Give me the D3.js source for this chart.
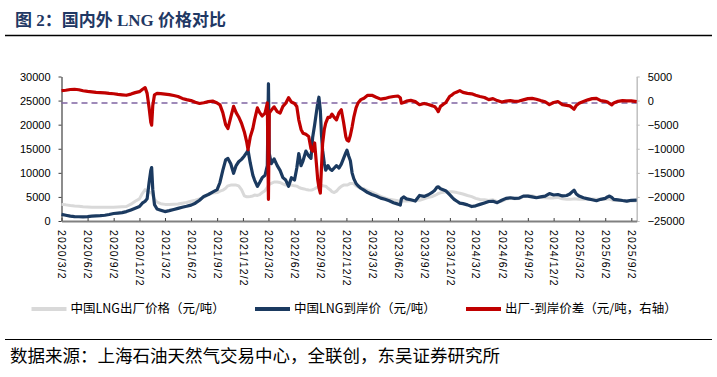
<!DOCTYPE html>
<html>
<head>
<meta charset="utf-8">
<script src="https://cdn.jsdelivr.net/npm/d3@7"></script>
<style>
  body { margin: 0; background: #fff; }
  svg { display: block; }
</style>
</head>
<body>
<div id="chart"></div>
<script>
// 数据：中国LNG出厂价、到岸价（左轴）及价差（右轴），单位 元/吨
const dates = [
  "2020-03-02","2020-03-17","2020-04-02","2020-04-17","2020-05-02","2020-05-17","2020-06-02","2020-06-17",
  "2020-07-02","2020-07-17","2020-08-02","2020-08-17","2020-09-02","2020-09-17","2020-10-02","2020-10-17",
  "2020-11-02","2020-11-17","2020-12-02","2020-12-12","2020-12-22","2020-12-29","2021-01-05","2021-01-11",
  "2021-01-14","2021-01-18","2021-01-24","2021-02-02","2021-02-15","2021-03-02","2021-03-17","2021-04-02",
  "2021-04-17","2021-05-02","2021-05-17","2021-06-02","2021-06-17","2021-07-02","2021-07-17","2021-08-02",
  "2021-08-17","2021-09-02","2021-09-12","2021-09-22","2021-10-02","2021-10-10","2021-10-20","2021-10-30",
  "2021-11-08","2021-11-17","2021-11-27","2021-12-07","2021-12-15","2021-12-20","2021-12-28","2022-01-06",
  "2022-01-12","2022-01-22","2022-01-30","2022-02-08","2022-02-18","2022-02-26","2022-03-02","2022-03-05",
  "2022-03-12","2022-03-22","2022-04-02","2022-04-12","2022-04-22","2022-05-02","2022-05-12","2022-05-22",
  "2022-06-02","2022-06-10","2022-06-17","2022-06-25","2022-07-02","2022-07-12","2022-07-22","2022-07-30",
  "2022-08-05","2022-08-12","2022-08-18","2022-08-23","2022-08-27","2022-09-01","2022-09-05","2022-09-09",
  "2022-09-15","2022-09-20","2022-09-28","2022-10-05","2022-10-12","2022-10-20","2022-10-28","2022-11-06",
  "2022-11-14","2022-11-22","2022-11-30","2022-12-04","2022-12-10","2022-12-16","2022-12-22","2022-12-28",
  "2023-01-05","2023-01-12","2023-01-22","2023-02-02","2023-02-15","2023-03-02","2023-03-17","2023-04-02",
  "2023-04-17","2023-05-02","2023-05-17","2023-06-02","2023-06-10","2023-06-14","2023-06-22","2023-07-02",
  "2023-07-17","2023-08-02","2023-08-17","2023-09-02","2023-09-17","2023-10-02","2023-10-10","2023-10-17",
  "2023-10-22","2023-10-30","2023-11-08","2023-11-17","2023-12-02","2023-12-10","2023-12-17","2023-12-27",
  "2024-01-06","2024-01-17","2024-02-02","2024-02-17","2024-03-02","2024-03-17","2024-04-02","2024-04-17",
  "2024-05-02","2024-05-17","2024-06-02","2024-06-17","2024-07-02","2024-07-17","2024-08-02","2024-08-17",
  "2024-09-02","2024-09-17","2024-10-02","2024-10-17","2024-11-02","2024-11-17","2024-12-02","2024-12-17",
  "2025-01-02","2025-01-17","2025-01-28","2025-02-08","2025-02-12","2025-02-20","2025-03-02","2025-03-17",
  "2025-04-02","2025-04-17","2025-05-02","2025-05-17","2025-06-02","2025-06-10","2025-06-17","2025-06-25",
  "2025-07-02","2025-07-17","2025-08-02","2025-08-17","2025-09-02","2025-09-21"
];

// 中国LNG出厂价格（元/吨）
const factoryPrice = [
  3450,3350,3200,3100,3050,2950,2900,2850, 2830,2830,2830,2830,2850,2900,2950,3000,
  3500,4100,4600,5700,6500,6200,6000,5900, 5800,5300,4500,3900,3600,3450,3450,3480,
  3520,3700,3850,4100,4300,4600,4900,5500, 5800,5900,6200,6400,6800,7300,7450,7450,
  7450,7300,6500,5200,5030,5030,5100,5200, 5380,5300,5500,5900,6300,7000,7400,7600,
  7800,8100,8100,8000,7700,7450,7450,7450, 7300,7240,7000,6800,6700,6560,6450,6410,
  6500,6700,6900,7100,7300,7450,7400,7300, 7250,7240,6800,6500,6100,5900,6200,6800,
  7200,7450,7450,7450,7600,7800,7800,7700, 7300,7100,6800,6700,6300,6000,5600,5100,
  4800,4500,4350,4200,4150,4150,4150,4150, 4200,4250,4300,4600,4900,5100,5300,5500,
  5700,5850,5950,6000,6070,6050,6000,5900, 5750,5600,5300,5050,4700,4450,4400,4250,
  4400,4000,4100,4500,4750,4600,4650,5100, 5300,5250,5000,4900,4850,4800,4800,4900,
  4600,4500,4500,4550,4600,4550,4500,4500, 4550,4550,4500,4500,4500,4550,4550,4400,
  4250,4250,4250,4100,4200,4150
];

// 中国LNG到岸价（元/吨）
const landedPrice = [
  1380,1200,1000,900,880,870,920,1000, 1050,1100,1200,1350,1550,1650,1750,1950,
  2300,2650,3000,3700,4100,4600,8000,10500, 11100,6500,3400,2500,2250,1950,2150,2400,
  2620,2850,3050,3300,3700,4300,5100,5500, 6000,6500,8000,10500,12700,13000,11900,9900,
  11500,12300,12800,13500,14200,14700,12000,9500, 8500,7200,8000,9000,9500,11500,28500,14000,
  11900,12900,11500,10500,9000,8500,7200,9000, 8500,11000,14000,11500,12500,14500,13500,13000,
  17400,20000,22500,24500,25700,23000,18000,14700, 12000,10550,11500,10800,10500,11000,11500,11000,
  11800,13000,14200,14700,13500,12500,10000,8800, 7800,7300,6800,6400,5900,5500,5200,4750,
  4500,4200,3800,3500,3300,4600,5000,4600, 4400,4140,5300,5100,5450,6000,6400,7000,
  7100,6700,6500,6300,5400,4900,4500,4100, 3700,3600,3350,3000,3150,3450,3750,4050,
  4100,3800,4300,4700,4830,4700,4750,5170, 5170,5000,4830,5000,5170,5700,5400,5500,
  5200,5300,5600,6200,6400,5600,5170,4830, 4600,4400,4210,4500,4690,5000,5170,4900,
  4500,4400,4250,4140,4300,4340
];

// 出厂-到岸价差（元/吨，右轴）
const priceSpread = [
  2060,2150,2300,2350,2250,2050,1900,1800, 1700,1650,1600,1500,1420,1300,1200,1100,
  1350,1650,1850,2300,2700,1500,-1500,-4500, -5100,-1000,1200,1500,1450,1350,1250,1050,
  860,450,200,0,-350,-600,-450,-210, -100,-500,-900,-2500,-5000,-5800,-3500,-1200,
  -2500,-3400,-4700,-6500,-8500,-10200,-7500,-5800, -4000,-1500,-2500,-3200,-2600,-500,-20500,-2600,
  -2000,-1300,-2300,-2600,-1200,-550,600,-300, -600,-1240,-4000,-6000,-6760,-7000,-7450,-10000,
  -10500,-8800,-13000,-16500,-18000,-19200,-14000,-9000, -6000,-4690,-3500,-3500,-2800,-3500,-4000,-2500,
  -1900,-4500,-7500,-8200,-8400,-7200,-5500,-3500, -1500,-500,200,500,1100,1100,700,300,
  450,700,850,950,600,-550,-400,-100, 50,-210,-850,-600,-800,-1100,-1300,-1800,
  -2300,-1200,-800,-450,900,1200,1550,1800, 2060,1700,1500,1400,1100,850,650,200,
  400,0,-300,-100,0,-150,-100,140, 400,450,280,0,-250,-850,-400,-200,
  -850,-1000,-1100,-1600,-1800,-1000,-550,-210, 150,400,450,0,-150,-300,-600,-900,
  -500,-150,0,-50,-70,-210
];

const refLevel = -500; // 紫色虚线（右轴）

const xTickLabels = [
  "2020/3/2","2020/6/2","2020/9/2","2020/12/2","2021/3/2","2021/6/2","2021/9/2","2021/12/2",
  "2022/3/2","2022/6/2","2022/9/2","2022/12/2","2023/3/2","2023/6/2","2023/9/2","2023/12/2",
  "2024/3/2","2024/6/2","2024/9/2","2024/12/2","2025/3/2","2025/6/2","2025/9/2"
];
const leftTicks = [0, 5000, 10000, 15000, 20000, 25000, 30000];
const rightTicks = [-25000, -20000, -15000, -10000, -5000, 0, 5000];

const seriesNames = ["中国LNG出厂价格（元/吨）", "中国LNG到岸价（元/吨）", "出厂-到岸价差（元/吨，右轴）"];
const seriesColors = ["#d9d9d9", "#1b3a60", "#c00000"];

const W = 717, H = 377;
const plotL = 61.5, plotR = 636.7, plotT = 76.5, plotB = 221;
const axisFont = "'Liberation Sans', Arial, sans-serif";
const cjkFont = "'Noto Sans CJK SC', sans-serif";

const parseDay = d3.timeParse("%Y-%m-%d");
const parseTick = d3.timeParse("%Y/%m/%d");
const dayList = dates.map(parseDay);

const x = d3.scaleTime()
  .domain([parseDay("2020-03-02"), parseDay("2025-09-21")])
  .range([plotL, plotR]);
const yL = d3.scaleLinear().domain([0, 30000]).range([plotB, plotT]);
const yR = d3.scaleLinear().domain([-25000, 5000]).range([plotB, plotT]);

const svg = d3.select("#chart").append("svg")
  .attr("width", W)
  .attr("height", H);

// 标题
svg.append("text")
  .attr("x", 15)
  .attr("y", 26)
  .attr("font-family", "'Liberation Serif', 'Noto Sans CJK SC', serif")
  .attr("font-weight", "bold")
  .attr("font-size", 17)
  .attr("fill", "#1f3864")
  .text("图 2：国内外 LNG 价格对比");

svg.append("line")
  .attr("x1", 5).attr("x2", 712)
  .attr("y1", 35.5).attr("y2", 35.5)
  .attr("stroke", "#000").attr("stroke-width", 1.3);

const plain = d3.format("d");

// 左轴
const gL = svg.append("g")
  .attr("transform", "translate(" + plotL + ",0)")
  .call(d3.axisLeft(yL).tickValues(leftTicks).tickFormat(plain)
    .tickSize(3).tickSizeOuter(0).tickPadding(8));
gL.select(".domain").attr("stroke", "#404040").attr("stroke-width", 1.2);
gL.selectAll(".tick line").attr("stroke", "#404040");
gL.selectAll("text").attr("font-family", axisFont).attr("font-size", 11).attr("fill", "#000");

// 右轴
const gR = svg.append("g")
  .attr("transform", "translate(" + plotR + ",0)")
  .call(d3.axisRight(yR).tickValues(rightTicks).tickFormat(plain)
    .tickSize(3).tickSizeOuter(0).tickPadding(8));
gR.select(".domain").attr("stroke", "#bfbfbf").attr("stroke-width", 1.5);
gR.selectAll(".tick line").attr("stroke", "#bfbfbf");
gR.selectAll("text").attr("font-family", axisFont).attr("font-size", 11).attr("fill", "#000");

// 横轴
const gX = svg.append("g")
  .attr("transform", "translate(0," + plotB + ")")
  .call(d3.axisBottom(x)
    .tickValues(xTickLabels.map(parseTick))
    .tickFormat((d, i) => xTickLabels[i])
    .tickSize(-3).tickSizeOuter(0));
gX.select(".domain").attr("stroke", "#808080").attr("stroke-width", 2);
gX.selectAll(".tick line").attr("stroke", "#404040");
gX.selectAll("text")
  .attr("font-family", axisFont)
  .attr("font-size", 10.5)
  .attr("letter-spacing", 1.1)
  .attr("fill", "#000")
  .attr("transform", "rotate(90)")
  .attr("x", 9)
  .attr("y", 0)
  .attr("dy", "0.35em")
  .style("text-anchor", "start");

// 折线
const lineL = d3.line().x((d, i) => x(dayList[i])).y(d => yL(d));
const lineR = d3.line().x((d, i) => x(dayList[i])).y(d => yR(d));

svg.append("path").datum(factoryPrice)
  .attr("d", lineL).attr("fill", "none")
  .attr("stroke", seriesColors[0]).attr("stroke-width", 3)
  .attr("stroke-linejoin", "round");

svg.append("path").datum(landedPrice)
  .attr("d", lineL).attr("fill", "none")
  .attr("stroke", seriesColors[1]).attr("stroke-width", 3.2)
  .attr("stroke-linejoin", "round");

svg.append("line")
  .attr("x1", plotL).attr("x2", plotR)
  .attr("y1", yR(refLevel)).attr("y2", yR(refLevel))
  .attr("stroke", "#8064a2").attr("stroke-width", 1.5)
  .attr("stroke-dasharray", "6,4");

svg.append("path").datum(priceSpread)
  .attr("d", lineR).attr("fill", "none")
  .attr("stroke", seriesColors[2]).attr("stroke-width", 3.2)
  .attr("stroke-linejoin", "round");

// 图例
const legendX = [31.5, 255, 466];
const legend = svg.append("g").selectAll("g")
  .data(seriesNames)
  .enter().append("g")
  .attr("transform", (d, i) => "translate(" + legendX[i] + ",309)");
legend.append("line")
  .attr("x1", 0).attr("x2", 35)
  .attr("stroke", (d, i) => seriesColors[i])
  .attr("stroke-width", 4);
legend.append("text")
  .attr("x", 39)
  .attr("dy", "0.35em")
  .attr("font-family", cjkFont)
  .attr("font-size", 12.5)
  .attr("fill", "#000")
  .text(d => d);

// 数据来源
svg.append("line")
  .attr("x1", 5).attr("x2", 712)
  .attr("y1", 339.5).attr("y2", 339.5)
  .attr("stroke", "#000").attr("stroke-width", 1.2);

svg.append("text")
  .attr("x", 10)
  .attr("y", 362)
  .attr("font-family", cjkFont)
  .attr("font-size", 17.5)
  .attr("fill", "#000")
  .text("数据来源：上海石油天然气交易中心，全联创，东吴证券研究所");
</script>
</body>
</html>
